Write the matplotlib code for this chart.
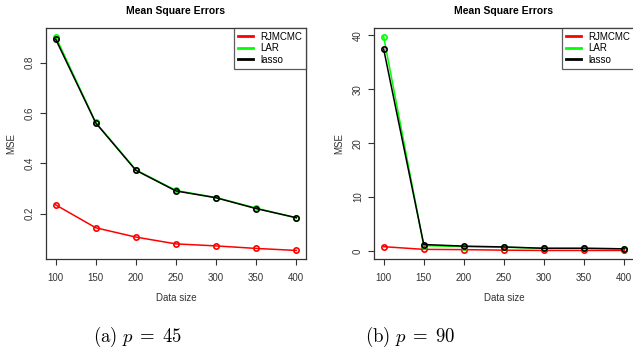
import matplotlib
matplotlib.use("Agg")
import matplotlib.pyplot as plt

plt.rcParams["font.family"] = ["Liberation Sans", "DejaVu Sans"]
plt.rcParams["mathtext.fontset"] = "cm"

# data
data_size = [100, 150, 200, 250, 300, 350, 400]

rjmcmc_45 = [0.235, 0.144, 0.107, 0.080, 0.072, 0.062, 0.054]
lar_45    = [0.903, 0.562, 0.374, 0.292, 0.264, 0.222, 0.183]
lasso_45  = [0.893, 0.560, 0.372, 0.290, 0.263, 0.220, 0.184]

rjmcmc_90 = [0.8, 0.3, 0.25, 0.15, 0.1, 0.1, 0.1]
lar_90    = [39.8, 1.0, 0.8, 0.7, 0.5, 0.5, 0.4]
lasso_90  = [37.5, 1.2, 0.9, 0.75, 0.5, 0.5, 0.4]

yticks_45 = [0.2, 0.4, 0.6, 0.8]
yticks_90 = [0, 10, 20, 30, 40]
captions = [r"$\mathrm{(a)}\ p\;=\;45$", r"$\mathrm{(b)}\ p\;=\;90$"]

W, H = 633, 352
fig = plt.figure(figsize=(W / 100, H / 100), dpi=100)

def draw(rect, rj, lar, lasso, yticks, caption, cap_x):
    ax = fig.add_axes([rect[0] / W, 1 - rect[3] / H, (rect[2] - rect[0]) / W, (rect[3] - rect[1]) / H])
    for vals, col in [(rj, "#ff0000"), (lar, "#00ff00"), (lasso, "black")]:
        ax.plot(data_size, vals, color=col, lw=1.1, marker="o", ms=3.8,
                mfc="none", mec=col, mew=1.2)
    lo, hi = min(rj + lar + lasso), max(rj + lar + lasso)
    pad = (hi - lo) * 0.04
    ax.set_ylim(lo - pad, hi + pad)
    ax.set_xlim(100 - 300 * 0.04, 400 + 300 * 0.04)
    ax.set_xticks(data_size)
    ax.set_yticks(yticks)
    ax.set_yticklabels([str(t) for t in yticks], rotation=90, va="center")
    ax.tick_params(direction="out", length=4, width=0.8, labelsize=7,
                   colors="#333333")
    ax.tick_params(axis="x", pad=6)
    ax.tick_params(axis="y", pad=4)
    for s in ax.spines.values():
        s.set_color("#333333")
        s.set_linewidth(0.9)
    ax.set_xlabel("Data size", fontsize=7, color="#333333", labelpad=7)
    ax.set_ylabel("MSE", fontsize=7, color="#333333", labelpad=6)
    ax.set_title("Mean Square Errors", fontsize=7.5, fontweight="bold", pad=10)
    handles = [plt.Line2D([], [], color=c, lw=2) for c in ["#ff0000", "#00ff00", "black"]]
    leg = ax.legend(handles, ["RJMCMC", "LAR", "lasso"], loc="upper right",
                    bbox_to_anchor=(1, 1), borderaxespad=0, fontsize=7,
                    frameon=True, fancybox=False, handlelength=1.6,
                    labelspacing=0.15, borderpad=0.4, handletextpad=0.7)
    leg.get_frame().set_edgecolor("#333333")
    leg.get_frame().set_linewidth(0.9)
    fig.text(cap_x / W, 1 - 337 / H, caption, fontsize=13.5,
             ha="center", va="center")

draw((46, 28, 306, 259), rjmcmc_45, lar_45, lasso_45, yticks_45, captions[0], 137)
draw((374, 28, 634, 259), rjmcmc_90, lar_90, lasso_90, yticks_90, captions[1], 410)

fig.savefig("out.png", dpi=100)
